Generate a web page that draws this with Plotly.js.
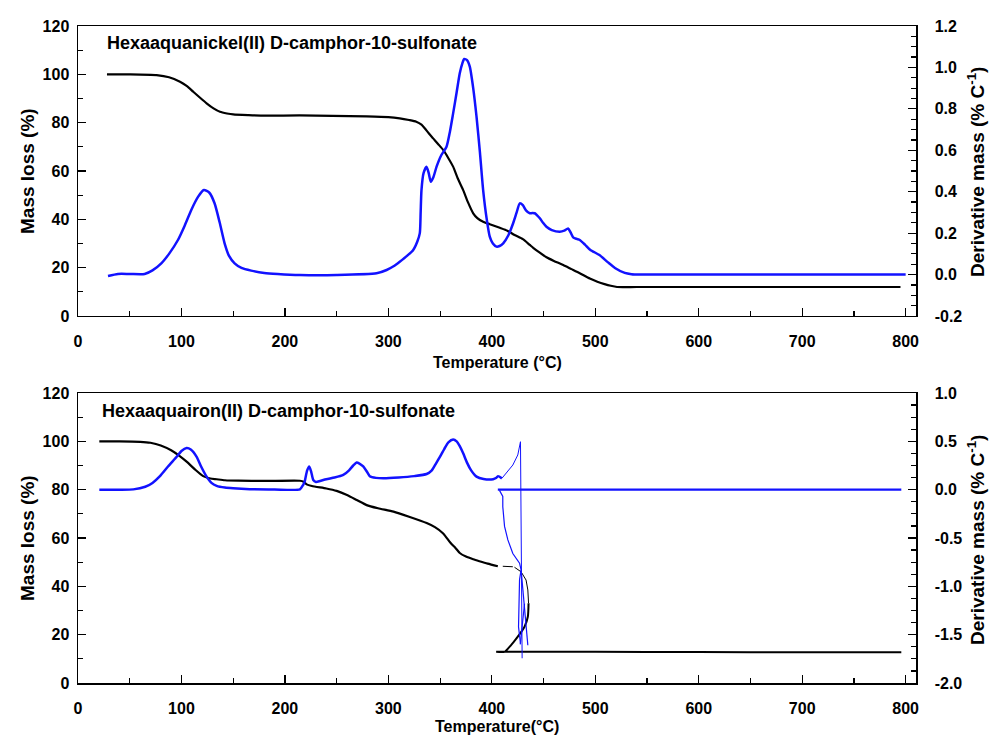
<!DOCTYPE html>
<html>
<head>
<meta charset="utf-8">
<script src="https://cdn.plot.ly/plotly-3.0.1.min.js"></script>
<style>html,body{margin:0;padding:0;background:#fff;}#chart{width:990px;height:736px;}</style>
</head>
<body>
<div id="chart"></div>
<script>
// ---------- Top panel: Hexaaquanickel(II) D-camphor-10-sulfonate ----------
const niMassT = [28, 50, 76, 88, 98.6, 105, 111.4, 118, 124.3, 131, 137.2, 144, 150, 165, 182, 214, 246, 279, 300, 311, 320, 327, 332, 335.3, 339, 343.3, 348, 353, 358, 362.6, 367, 372.3, 377, 382, 386, 391.6, 398, 407.7, 415, 422, 430, 436.7, 440, 446, 452.8, 460, 469, 477, 485, 494.7, 502, 509, 515, 521, 540, 600, 700, 795];
const niMass = [100, 100, 99.7, 98.8, 96.9, 95.2, 92.8, 90.3, 88, 85.9, 84.5, 83.8, 83.4, 83.1, 82.9, 83.0, 82.8, 82.6, 82.3, 81.8, 81.1, 80.4, 79.2, 77.6, 75.6, 73.5, 71.2, 68.7, 65.3, 61.8, 57, 52.1, 47, 42.5, 40.5, 39, 38, 36.5, 35.3, 33.5, 31.8, 29.4, 28.2, 26.3, 24.3, 22.8, 21.1, 19.4, 17.7, 15.5, 14.2, 13.2, 12.5, 12.0, 12.0, 12.0, 12.0, 12.0];

const niDtgT = [29, 38.6, 50, 64.4, 72, 80.5, 88, 96.6, 103, 109.5, 116, 121.7, 127, 132, 137, 141.7, 146, 151.4, 158, 167.4, 180, 193, 214.5, 250, 288.6, 298.3, 305, 311, 318, 324, 328, 330.4, 331.2, 332, 334, 336.9, 339, 341, 343.5, 346.6, 351, 356.2, 359.5, 362.6, 366, 369, 371.5, 373.3, 376, 378.7, 382, 385.2, 388.5, 391.6, 395, 398, 401, 404.5, 407.5, 411, 416, 420.6, 424, 427, 430, 433, 436.7, 439, 441.5, 444, 446.4, 449.5, 452.8, 458, 465.7, 470, 473.7, 476, 478.6, 482, 485, 490, 495, 504, 512, 519, 528.5, 535, 543, 600, 700, 800];
const niDtg = [-0.007, 0.003, 0.003, 0.003, 0.02, 0.054, 0.1, 0.167, 0.235, 0.312, 0.375, 0.408, 0.395, 0.344, 0.25, 0.151, 0.09, 0.054, 0.032, 0.019, 0.008, 0.003, -0.002, -0.002, 0.006, 0.022, 0.04, 0.062, 0.09, 0.119, 0.16, 0.2, 0.3, 0.408, 0.49, 0.521, 0.49, 0.448, 0.47, 0.521, 0.575, 0.617, 0.69, 0.778, 0.88, 0.972, 1.02, 1.041, 1.035, 1.004, 0.9, 0.762, 0.59, 0.408, 0.27, 0.183, 0.15, 0.135, 0.138, 0.151, 0.19, 0.248, 0.3, 0.344, 0.335, 0.31, 0.296, 0.297, 0.296, 0.285, 0.272, 0.25, 0.231, 0.215, 0.207, 0.212, 0.223, 0.205, 0.18, 0.172, 0.167, 0.145, 0.12, 0.094, 0.06, 0.032, 0.008, 0.002, 0.0, 0.0, 0.0, 0.0];

// ---------- Bottom panel: Hexaaquairon(II) D-camphor-10-sulfonate ----------
const feMassT = [20.6, 40, 60, 70, 80, 90, 98, 105, 113, 121, 128, 134, 142, 155, 180, 214.5, 218, 221, 226, 240, 250, 260, 270, 279, 290, 305, 320, 337, 345, 353, 360, 365, 369, 375, 382, 388, 396, 405.8];
const feMass = [100, 100, 99.8, 99.4, 98.3, 96.3, 94, 91.6, 88.4, 85.6, 84.6, 84.3, 83.9, 83.7, 83.6, 83.7, 83.3, 82.2, 81.5, 80.5, 79.5, 77.8, 75.6, 73.6, 72.3, 70.9, 68.8, 66.2, 64.5, 61.9, 58, 55.8, 53.8, 52.3, 51.2, 50.4, 49.4, 48.3];
// scattered points of the ignition step (thin)
const feMassStepT = [410.6, 420.3, null, 421.9, 428.3, 433.1, 434.8, 435.5];
const feMassStep = [48.3, 48.1, null, 47.9, 46.0, 42.6, 38.5, 33.0];
// lower loop and residue
const feMassResT = [435.5, 434.8, 431.6, 425.1, 418.6, 412.3, 404.2, 500, 600, 700, 795.8];
const feMassRes = [33.0, 27.4, 23.3, 19.2, 15.7, 12.9, 12.9, 12.9, 12.8, 12.7, 12.7];

const feDtgT = [20.6, 40, 53.5, 65, 72, 79.2, 87, 95.4, 100, 105, 109, 114.7, 119, 124.3, 129, 134, 142, 150, 166, 190, 214.5, 217.7, 219, 221.5, 223.5, 225.5, 227.4, 230, 234, 240, 248, 256.4, 262, 266, 269.3, 272, 275.7, 279, 282, 288, 295, 310, 325, 337, 342, 346, 349.8, 354, 358, 362.6, 366, 369, 372.3, 376, 380, 385.2, 392, 401.3, 404, 406, 409.7];
const feDtg = [0, 0, 0.003, 0.03, 0.07, 0.14, 0.24, 0.34, 0.4, 0.43, 0.415, 0.34, 0.24, 0.135, 0.07, 0.04, 0.022, 0.014, 0.005, 0.002, 0.004, 0.05, 0.08, 0.2, 0.24, 0.18, 0.1, 0.08, 0.09, 0.108, 0.125, 0.152, 0.2, 0.25, 0.28, 0.27, 0.24, 0.19, 0.14, 0.122, 0.117, 0.125, 0.14, 0.162, 0.2, 0.27, 0.34, 0.42, 0.49, 0.52, 0.5, 0.45, 0.376, 0.28, 0.2, 0.135, 0.11, 0.108, 0.12, 0.14, 0.117];
const feDtgSpikeT = [409.7, 415, 420.3, 425.1, 427.7, 429.3];
const feDtgSpike = [0.117, 0.19, 0.255, 0.359, 0.496, -1.744];
const feDtgDropT = [407.4, 410.6, 410.6, 412.3, 415.5, 420.3, 426.8, 428.3, 426.8, 425.8, 427.7, null, 428.3, 434.8, null, 431.6, 427.5];
const feDtgDrop = [-0.007, -0.07, -0.176, -0.38, -0.52, -0.66, -0.76, -0.83, -0.93, -1.42, -1.59, null, -0.83, -1.61, null, -1.18, -1.6];
const feDtgBaseT = [405.8, 795.8];
const feDtgBase = [0, 0];

// tick labels
const xTicks = [0, 100, 200, 300, 400, 500, 600, 700, 800];
const massTicks = [0, 20, 40, 60, 80, 100, 120];
const niDtgTicks = [-0.2, 0, 0.2, 0.4, 0.6, 0.8, 1.0, 1.2];
const niDtgTickText = ['-0.2', '0.0', '0.2', '0.4', '0.6', '0.8', '1.0', '1.2'];
const feDtgTicks = [-2, -1.5, -1, -0.5, 0, 0.5, 1];
const feDtgTickText = ['-2.0', '-1.5', '-1.0', '-0.5', '0.0', '0.5', '1.0'];

const FONT = 'Liberation Sans, Arial, sans-serif';
const BLUE = 'rgb(18,18,255)';
const tickFont = {family: FONT, size: 16, color: '#000', weight: 'bold'};

function ln(x, y, xa, ya, color, width) {
  return {x: x, y: y, xaxis: xa, yaxis: ya, type: 'scatter', mode: 'lines',
          line: {color: color, width: width, shape: 'spline', smoothing: 0.6},
          connectgaps: false, hoverinfo: 'skip'};
}
function lnS(x, y, xa, ya, color, width) {
  return {x: x, y: y, xaxis: xa, yaxis: ya, type: 'scatter', mode: 'lines',
          line: {color: color, width: width}, connectgaps: false, hoverinfo: 'skip'};
}

const data = [
  ln(niMassT, niMass, 'x', 'y', '#000', 2.2),
  ln(niDtgT, niDtg, 'x', 'y2', BLUE, 2.5),
  ln(feMassT, feMass, 'x2', 'y3', '#000', 2.2),
  lnS(feMassStepT, feMassStep, 'x2', 'y3', '#000', 1.0),
  ln(feMassResT, feMassRes, 'x2', 'y3', '#000', 2.0),
  ln(feDtgT, feDtg, 'x2', 'y4', BLUE, 2.5),
  lnS(feDtgSpikeT, feDtgSpike, 'x2', 'y4', BLUE, 1.0),
  lnS(feDtgDropT, feDtgDrop, 'x2', 'y4', BLUE, 1.2),
  lnS(feDtgBaseT, feDtgBase, 'x2', 'y4', BLUE, 2.2)
];

function xAxis(anchor) {
  return {range: [0, 810], anchor: anchor, domain: [0, 1], showgrid: false, zeroline: false,
          showline: true, mirror: true, linecolor: '#000', linewidth: 1.5,
          ticks: 'inside', ticklen: 8, tickwidth: 1.2, tickcolor: '#000',
          tickmode: 'array', tickvals: xTicks, tickfont: tickFont, ticklabelstandoff: 10,
          minor: {dtick: 50, tick0: 0, ticks: 'inside', ticklen: 5, tickwidth: 1.2, tickcolor: '#000', showgrid: false}};
}
function massAxis(domain, anchor) {
  return {range: [0, 120], domain: domain, anchor: anchor, showgrid: false, zeroline: false,
          showline: true, linecolor: '#000', linewidth: 1.5,
          ticks: 'inside', ticklen: 8, tickwidth: 1.2, tickcolor: '#000',
          tickmode: 'array', tickvals: massTicks, tickfont: tickFont, ticklabelstandoff: 4,
          minor: {dtick: 10, tick0: 0, ticks: 'inside', ticklen: 5, tickwidth: 1.2, tickcolor: '#000', showgrid: false}};
}
function dtgAxis(range, over, anchor, vals, text, mdt) {
  return {range: range, overlaying: over, anchor: anchor, side: 'right', showgrid: false, zeroline: false,
          showline: true, linecolor: '#000', linewidth: 1.5,
          ticks: 'inside', ticklen: 8, tickwidth: 1.2, tickcolor: '#000',
          tickmode: 'array', tickvals: vals, ticktext: text, tickfont: tickFont, ticklabelstandoff: 14,
          minor: {dtick: mdt, tick0: range[0], ticks: 'inside', ticklen: 5, tickwidth: 1.2, tickcolor: '#000', showgrid: false}};
}

// paper coordinates from pixel positions of plot area (x 78..916, y 26..683)
function px(x) { return (x - 78) / 838; }
function py(y) { return (683 - y) / 657; }

const titleFont = {family: FONT, size: 19, color: '#000', weight: 'bold'};
const xTitleFont = {family: FONT, size: 16, color: '#000', weight: 'bold'};
const labelFont = {family: FONT, size: 18, color: '#000', weight: 'bold'};

function ann(text, x, y, font, opts) {
  return Object.assign({text: text, x: x, y: y, xref: 'paper', yref: 'paper', showarrow: false,
                        font: font, xanchor: 'center', yanchor: 'middle'}, opts || {});
}

const layout = {
  width: 990, height: 736,
  margin: {l: 78, r: 74, t: 26, b: 53, pad: 0},
  paper_bgcolor: '#fff', plot_bgcolor: '#fff',
  showlegend: false,
  font: {family: FONT, color: '#000'},
  xaxis: xAxis('y'),
  yaxis: massAxis([0.5586, 1], 'x'),
  yaxis2: dtgAxis([-0.2, 1.2], 'y', 'x', niDtgTicks, niDtgTickText, 0.05),
  xaxis2: xAxis('y3'),
  yaxis3: massAxis([0, 0.4414], 'x2'),
  yaxis4: dtgAxis([-2, 1], 'y3', 'x2', feDtgTicks, feDtgTickText, 0.125),
  annotations: [
    ann('Hexaaquanickel(II) D-camphor-10-sulfonate', px(105), py(43.5), labelFont, {xanchor: 'left'}),
    ann('Hexaaquairon(II) D-camphor-10-sulfonate', px(100), py(411), labelFont, {xanchor: 'left'}),
    ann('Mass loss (%)', px(27), py(171), titleFont, {textangle: -90}),
    ann('Mass loss (%)', px(27), py(538), titleFont, {textangle: -90}),
    ann('Derivative mass (% C<sup>-1</sup>)', px(976), py(172), titleFont, {textangle: -90}),
    ann('Derivative mass (% C<sup>-1</sup>)', px(976), py(540), titleFont, {textangle: -90}),
    ann('Temperature (°C)', px(497), py(362), xTitleFont),
    ann('Temperature(°C)', px(497), py(726), xTitleFont)
  ]
};

Plotly.newPlot('chart', data, layout, {staticPlot: true, displayModeBar: false});
</script>
</body>
</html>
